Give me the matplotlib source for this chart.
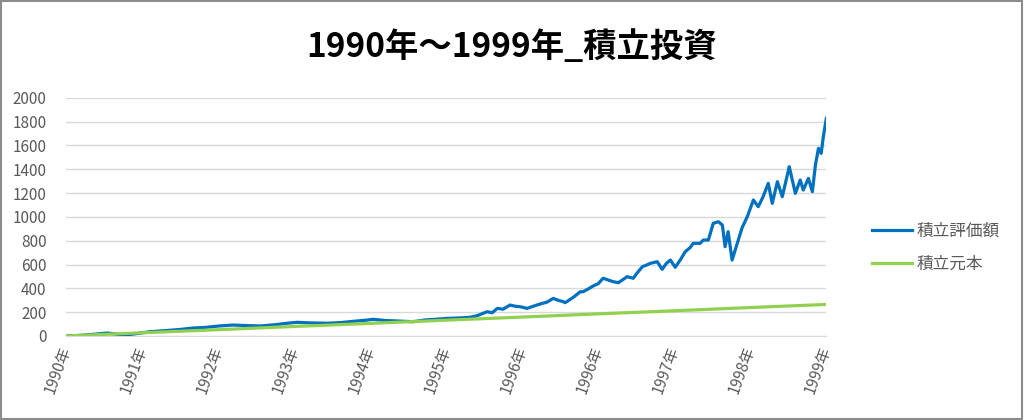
import matplotlib.pyplot as plt
from matplotlib.patches import Rectangle

plt.rcParams['font.family'] = ['Noto Sans CJK JP', 'DejaVu Sans']

# 経過日数 (x) と 積立評価額 (y)
days = [0, 46, 95, 135, 171, 201, 237, 276, 326, 375, 418, 457, 507, 549, 589,
        638, 688, 730, 760, 803, 858, 901, 951, 983, 1010, 1049, 1089, 1141,
        1181, 1214, 1253, 1296, 1329, 1352, 1385, 1401, 1418, 1437, 1460, 1477,
        1493, 1516, 1536, 1559, 1582, 1602, 1618, 1635, 1641, 1668, 1691, 1700,
        1717, 1733, 1750, 1766, 1783, 1799, 1816, 1829, 1845, 1865, 1878, 1895,
        1908, 1921, 1944, 1960, 1974, 1987, 2003, 2020, 2036, 2053, 2062, 2085,
        2095, 2112, 2128, 2145, 2158, 2167, 2177, 2190, 2207, 2223, 2240, 2260,
        2276, 2292, 2309, 2322, 2339, 2355, 2378, 2398, 2414, 2424, 2441, 2454,
        2464, 2474, 2483, 2490, 2500]
valuation = [0, 5, 15, 25, 14, 10, 22, 36, 45, 55, 67, 72, 85, 92, 88,
             84, 95, 108, 115, 110, 107, 112, 125, 132, 140, 130, 126, 120,
             135, 140, 148, 152, 157, 171, 204, 195, 232, 225, 260, 250,
             246, 232, 250, 269, 285, 316, 300, 288, 280, 325, 372, 372,
             395, 420, 440, 485, 470, 456, 448, 470, 498, 485, 530, 582,
             595, 610, 624, 560, 610, 638, 577, 640, 708, 745, 778, 778,
             806, 806, 946, 960, 932, 750, 876, 638, 778, 910, 1002, 1142,
             1086, 1170, 1282, 1114, 1296, 1170, 1422, 1198, 1310, 1226, 1324, 1212,
             1436, 1576, 1534, 1674, 1828]

# 積立元本
principal_days = [0, 250, 500, 750, 1000, 1250, 1500, 1750, 2000, 2250, 2500]
principal = [0, 27, 53, 80, 106, 133, 159, 186, 212, 239, 265]

tick_days = [0, 250, 500, 750, 1000, 1250, 1500, 1750, 2000, 2250, 2500]
tick_labels = ['1990年', '1991年', '1992年', '1993年', '1994年', '1995年',
               '1996年', '1996年', '1997年', '1998年', '1999年']

fig = plt.figure(figsize=(10.24, 4.2), dpi=100)
ax = fig.add_axes([0.0645, 0.2, 0.7425, 0.567])

ax.plot(days, valuation, color='#0070C0', lw=2.3, label='積立評価額', zorder=3)
ax.plot(principal_days, principal, color='#92D050', lw=2.3, label='積立元本', zorder=4)

ax.set_xlim(0, 2500)
ax.set_ylim(0, 2000)
ax.set_yticks(range(0, 2001, 200))
ax.set_xticks(tick_days)
ax.set_xticklabels(tick_labels, rotation=70, rotation_mode='anchor',
                   ha='right', va='center')
ax.tick_params(axis='both', length=0, colors='#595959', labelsize=11)
ax.tick_params(axis='x', pad=8)
ax.tick_params(axis='y', pad=14)

ax.grid(axis='y', color='#D9D9D9', lw=1)
ax.set_axisbelow(True)
for s in ['top', 'right', 'left']:
    ax.spines[s].set_visible(False)
ax.spines['bottom'].set_color('#D9D9D9')

fig.text(0.5, 0.888, '1990年～1999年_積立投資', ha='center', va='center',
         fontsize=24, fontweight='bold', color='black')

ax.legend(loc='center left', bbox_to_anchor=(1.04, 0.37), frameon=False,
          fontsize=12, labelcolor='#595959', handlelength=2.4,
          handletextpad=0.3, labelspacing=1.0)

# border round the whole picture
fig.patches.append(Rectangle((0.001, 0.002), 0.997, 0.995, transform=fig.transFigure,
                             fill=False, edgecolor='#8C8C8C', lw=1.5))

plt.savefig('out.png', dpi=100)
plt.close()
